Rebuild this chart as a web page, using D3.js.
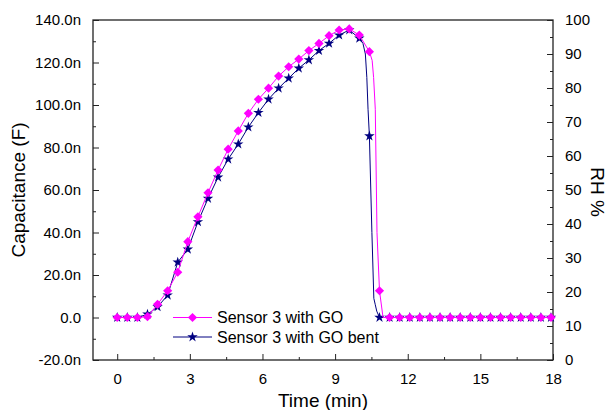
<!DOCTYPE html>
<html>
<head>
<meta charset="utf-8">
<script src="https://cdn.jsdelivr.net/npm/d3@7"></script>
<style>
  body { margin: 0; background: #fff; }
  svg text { font-family: Arial, "Liberation Sans", sans-serif; fill: #000; }
</style>
</head>
<body>
<svg id="chart"></svg>
<script>
// taille de la figure
const width = 609;
const height = 410;

// temps des mesures (s), un point toutes les 25 s
const sampleSec = [0, 25, 50, 75, 100, 125, 150, 175, 200, 225, 250, 275, 300, 325, 350,
  375, 400, 425, 450, 475, 500, 525, 550, 575, 600, 625, 650, 675, 700, 725, 750,
  775, 800, 825, 850, 875, 900, 925, 950, 975, 1000, 1025, 1050, 1075];

// capacite (nF) - Sensor 3 with GO
const goCap = [0, 0, 0, 0.4, 6.2, 12.6, 21.3, 35.7, 47.4, 58.7, 69.4, 79.2, 87.8, 96.1, 102.7,
  107.9, 113.6, 118.0, 121.6, 125.6, 129.0, 132.6, 135.3, 135.8, 132.9, 125.1, 12.6, 0, 0, 0, 0,
  0, 0, 0, 0, 0, 0, 0, 0, 0, 0, 0, 0, 0];

// capacite (nF) - Sensor 3 with GO bent
const bentCap = [0, 0, 0, 1.5, 5.0, 10.5, 26.0, 32.1, 45.0, 56.0, 66.0, 74.5, 81.6, 89.6, 96.4,
  102.7, 107.9, 112.6, 117.3, 121.2, 125.6, 129.0, 132.9, 135.3, 131.4, 85.4, 0, 0, 0, 0, 0,
  0, 0, 0, 0, 0, 0, 0, 0, 0, 0, 0, 0, 0];

// points intermediaires sans symbole (chute rapide)
const goExtraMin = [10.53, 10.59, 10.66, 10.73, 10.98];
const goExtraCap = [121.0, 113.0, 98.0, 40.0, 0];
const bentExtraMin = [10.15, 10.25, 10.31, 10.36, 10.52, 10.6, 10.66, 10.72];
const bentExtraCap = [129.0, 124.0, 113.0, 98.0, 40.0, 9.0, 6.0, 3.0];

// graduations
const xTicks = [0, 3, 6, 9, 12, 15, 18];
const yTicks = [-20, 0, 20, 40, 60, 80, 100, 120, 140];
const rhTicks = [0, 10, 20, 30, 40, 50, 60, 70, 80, 90, 100];

const legendNames = ["Sensor 3 with GO", "Sensor 3 with GO bent"];
const pink = "#ff00ff";
const navy = "#000080";

const mLeft = 93, mRight = 553, mTop = 20, mBottom = 360;

const x = d3.scaleLinear().domain([-1, 18]).range([mLeft, mRight]);
const y = d3.scaleLinear().domain([-20, 140]).range([mBottom, mTop]);
const yRH = d3.scaleLinear().domain([0, 100]).range([mBottom, mTop]);

const svg = d3.select("#chart")
    .attr("width", width)
    .attr("height", height);

// construit les series
function buildSeries(cap, extraMin, extraCap) {
  const marks = sampleSec.map((s, i) => ({ t: s / 60, v: cap[i] }));
  const extra = extraMin.map((t, i) => ({ t: t, v: extraCap[i] }));
  const pts = marks.concat(extra).sort((a, b) => a.t - b.t);
  return { marks, pts };
}
const goSeries = buildSeries(goCap, goExtraMin, goExtraCap);
const bentSeries = buildSeries(bentCap, bentExtraMin, bentExtraCap);

const line = d3.line().x(d => x(d.t)).y(d => y(d.v));
const diamond = "M0,-4.6L4.6,0L0,4.6L-4.6,0Z";
const star = d3.symbol().type(d3.symbolStar).size(34);

// axes (ticks vers l'interieur)
const xAxis = d3.axisBottom(x).tickValues(xTicks).tickSize(-6).tickPadding(13).tickFormat(d3.format("d"));
const xMinor = d3.axisBottom(x).tickValues(d3.range(1.5, 18, 3)).tickSize(-3).tickFormat("");
const yAxis = d3.axisLeft(y).tickValues(yTicks).tickSize(-6).tickPadding(12)
    .tickFormat(d => d === 0 ? "0.0" : d.toFixed(1) + "n");
const yMinor = d3.axisLeft(y).tickValues(d3.range(-10, 140, 20)).tickSize(-3).tickFormat("");
const rAxis = d3.axisRight(yRH).tickValues(rhTicks).tickSize(-6).tickPadding(12);
const rMinor = d3.axisRight(yRH).tickValues(d3.range(5, 100, 10)).tickSize(-3).tickFormat("");

function styleAxis(g) {
  g.select(".domain").remove();
  g.selectAll("line").attr("stroke", "#222").attr("stroke-width", 1);
  g.selectAll("text").style("font-size", "15px");
}

svg.append("g").attr("transform", `translate(0,${mBottom})`).call(xAxis).call(styleAxis);
svg.append("g").attr("transform", `translate(0,${mBottom})`).call(xMinor).call(styleAxis);
svg.append("g").attr("transform", `translate(${mLeft},0)`).call(yAxis).call(styleAxis);
svg.append("g").attr("transform", `translate(${mLeft},0)`).call(yMinor).call(styleAxis);
svg.append("g").attr("transform", `translate(${mRight},0)`).call(rAxis).call(styleAxis);
svg.append("g").attr("transform", `translate(${mRight},0)`).call(rMinor).call(styleAxis);

// cadre
svg.append("rect")
    .attr("x", mLeft).attr("y", mTop)
    .attr("width", mRight - mLeft).attr("height", mBottom - mTop)
    .attr("fill", "none").attr("stroke", "#222").attr("stroke-width", 1.3);

// titres des axes
svg.append("text").attr("x", (mLeft + mRight) / 2).attr("y", 407)
    .attr("text-anchor", "middle").style("font-size", "19px").text("Time (min)");
svg.append("text").attr("transform", "translate(25,190) rotate(-90)")
    .attr("text-anchor", "middle").style("font-size", "19px").text("Capacitance (F)");
svg.append("text").attr("transform", "translate(591,192) rotate(90)")
    .attr("text-anchor", "middle").style("font-size", "19px").text("RH %");

// courbe "bent" (dessous)
svg.append("path").datum(bentSeries.pts).attr("d", line)
    .attr("fill", "none").attr("stroke", navy).attr("stroke-width", 1);
svg.append("g").selectAll("path").data(bentSeries.marks).enter().append("path")
    .attr("transform", d => `translate(${x(d.t)},${y(d.v)})`)
    .attr("d", star).attr("fill", navy);

// courbe GO (dessus)
svg.append("path").datum(goSeries.pts).attr("d", line)
    .attr("fill", "none").attr("stroke", pink).attr("stroke-width", 1);
svg.append("g").selectAll("path").data(goSeries.marks).enter().append("path")
    .attr("transform", d => `translate(${x(d.t)},${y(d.v)})`)
    .attr("d", diamond).attr("fill", pink);

// legende
const legend = svg.append("g");
const legendRows = [
  { name: legendNames[0], color: pink, mark: diamond, y: 317.5 },
  { name: legendNames[1], color: navy, mark: star(), y: 337 }
];
legendRows.forEach(r => {
  legend.append("line").attr("x1", 173).attr("x2", 212).attr("y1", r.y).attr("y2", r.y)
      .attr("stroke", r.color).attr("stroke-width", 1);
  legend.append("path").attr("transform", `translate(192.5,${r.y})`)
      .attr("d", r.mark).attr("fill", r.color);
  legend.append("text").attr("x", 217).attr("y", r.y).attr("dy", "0.36em")
      .style("font-size", "16px").text(r.name);
});
</script>
</body>
</html>
